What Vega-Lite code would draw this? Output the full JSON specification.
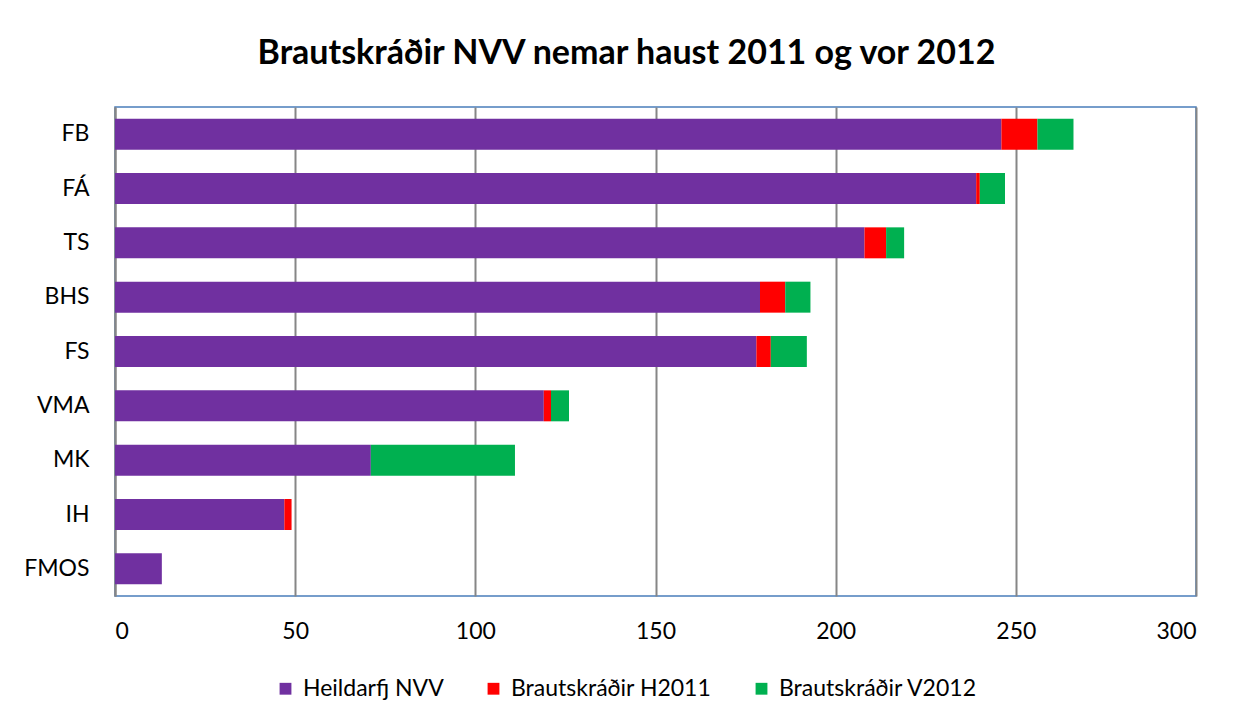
{
  "$schema": "https://vega.github.io/schema/vega-lite/v6.json",
  "width": 1081,
  "height": 489,
  "autosize": {"type": "none"},
  "padding": {"left": 115, "top": 107, "right": 46, "bottom": 126},
  "background": "white",
  "title": {
    "text": "Brautskráðir NVV nemar haust 2011 og vor 2012",
    "font": "Lato",
    "fontSize": 34,
    "fontWeight": "bold",
    "color": "black",
    "anchor": "middle",
    "frame": "group",
    "baseline": "alphabetic",
    "offset": 9,
    "dx": -29
  },
  "data": {
    "values": [
      {"skoli": "FB", "flokkur": "Heildarfj NVV", "rod": 1, "fjoldi": 246},
      {"skoli": "FB", "flokkur": "Brautskráðir H2011", "rod": 2, "fjoldi": 10},
      {"skoli": "FB", "flokkur": "Brautskráðir V2012", "rod": 3, "fjoldi": 10},
      {"skoli": "FÁ", "flokkur": "Heildarfj NVV", "rod": 1, "fjoldi": 239},
      {"skoli": "FÁ", "flokkur": "Brautskráðir H2011", "rod": 2, "fjoldi": 1},
      {"skoli": "FÁ", "flokkur": "Brautskráðir V2012", "rod": 3, "fjoldi": 7},
      {"skoli": "TS", "flokkur": "Heildarfj NVV", "rod": 1, "fjoldi": 208},
      {"skoli": "TS", "flokkur": "Brautskráðir H2011", "rod": 2, "fjoldi": 6},
      {"skoli": "TS", "flokkur": "Brautskráðir V2012", "rod": 3, "fjoldi": 5},
      {"skoli": "BHS", "flokkur": "Heildarfj NVV", "rod": 1, "fjoldi": 179},
      {"skoli": "BHS", "flokkur": "Brautskráðir H2011", "rod": 2, "fjoldi": 7},
      {"skoli": "BHS", "flokkur": "Brautskráðir V2012", "rod": 3, "fjoldi": 7},
      {"skoli": "FS", "flokkur": "Heildarfj NVV", "rod": 1, "fjoldi": 178},
      {"skoli": "FS", "flokkur": "Brautskráðir H2011", "rod": 2, "fjoldi": 4},
      {"skoli": "FS", "flokkur": "Brautskráðir V2012", "rod": 3, "fjoldi": 10},
      {"skoli": "VMA", "flokkur": "Heildarfj NVV", "rod": 1, "fjoldi": 119},
      {"skoli": "VMA", "flokkur": "Brautskráðir H2011", "rod": 2, "fjoldi": 2},
      {"skoli": "VMA", "flokkur": "Brautskráðir V2012", "rod": 3, "fjoldi": 5},
      {"skoli": "MK", "flokkur": "Heildarfj NVV", "rod": 1, "fjoldi": 71},
      {"skoli": "MK", "flokkur": "Brautskráðir H2011", "rod": 2, "fjoldi": 0},
      {"skoli": "MK", "flokkur": "Brautskráðir V2012", "rod": 3, "fjoldi": 40},
      {"skoli": "IH", "flokkur": "Heildarfj NVV", "rod": 1, "fjoldi": 47},
      {"skoli": "IH", "flokkur": "Brautskráðir H2011", "rod": 2, "fjoldi": 2},
      {"skoli": "IH", "flokkur": "Brautskráðir V2012", "rod": 3, "fjoldi": 0},
      {"skoli": "FMOS", "flokkur": "Heildarfj NVV", "rod": 1, "fjoldi": 13},
      {"skoli": "FMOS", "flokkur": "Brautskráðir H2011", "rod": 2, "fjoldi": 0},
      {"skoli": "FMOS", "flokkur": "Brautskráðir V2012", "rod": 3, "fjoldi": 0}
    ]
  },
  "mark": {"type": "bar"},
  "encoding": {
    "y": {
      "field": "skoli",
      "type": "nominal",
      "sort": ["FB", "FÁ", "TS", "BHS", "FS", "VMA", "MK", "IH", "FMOS"],
      "scale": {"paddingInner": 0.43, "paddingOuter": 0.215},
      "axis": {
        "title": null,
        "labelFont": "Lato",
        "labelFontSize": 23,
        "labelColor": "black",
        "labelPadding": 26,
        "ticks": false,
        "domainColor": "#868686",
        "domainWidth": 2
      }
    },
    "x": {
      "field": "fjoldi",
      "type": "quantitative",
      "stack": "zero",
      "scale": {"domain": [0, 300], "nice": false},
      "axis": {
        "title": null,
        "values": [0, 50, 100, 150, 200, 250, 300],
        "grid": true,
        "gridColor": "#868686",
        "gridWidth": 2,
        "ticks": false,
        "domain": false,
        "labelFont": "Lato",
        "labelFontSize": 23,
        "labelColor": "black",
        "labelPadding": 24
      }
    },
    "color": {
      "field": "flokkur",
      "type": "nominal",
      "scale": {
        "domain": ["Heildarfj NVV", "Brautskráðir H2011", "Brautskráðir V2012"],
        "range": ["#7030A0", "#FF0000", "#00B050"]
      },
      "legend": {
        "title": null,
        "orient": "none",
        "direction": "horizontal",
        "legendX": 159,
        "legendY": 570,
        "symbolType": "square",
        "symbolSize": 140,
        "symbolStrokeWidth": 0,
        "labelFont": "Lato",
        "labelFontSize": 23,
        "labelColor": "black",
        "labelOffset": 6,
        "labelLimit": 400,
        "columnPadding": 38
      }
    },
    "order": {"field": "rod"}
  },
  "config": {"view": {"stroke": "#4A7EBB", "strokeWidth": 1.5}}
}
